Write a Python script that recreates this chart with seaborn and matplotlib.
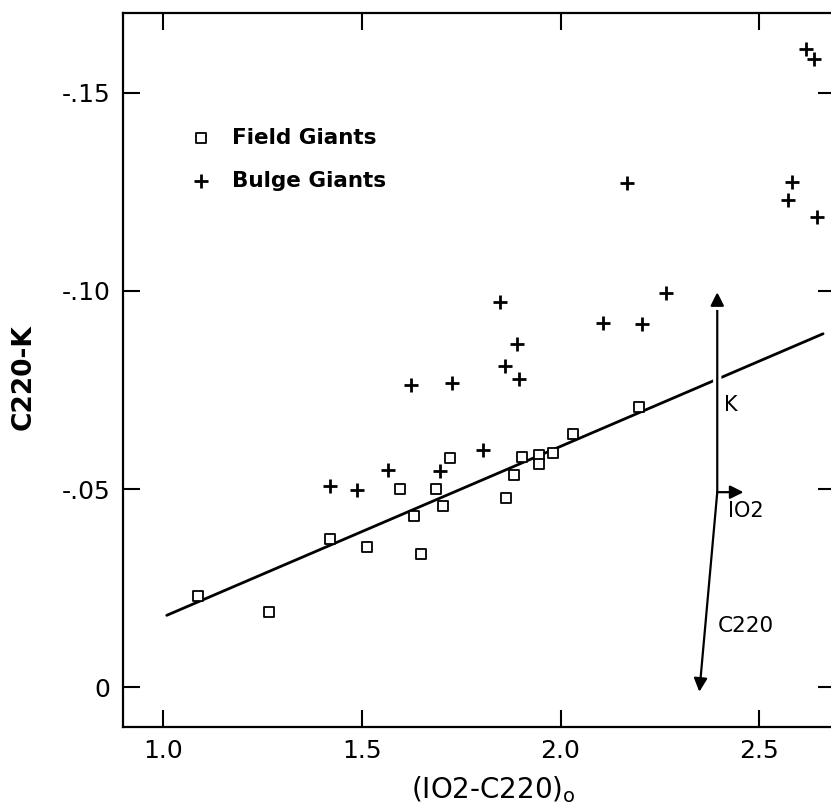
import numpy as np
import pandas as pd
import matplotlib
matplotlib.use('agg')
import matplotlib.pyplot as plt
import matplotlib.patheffects as pe
import seaborn as sns

# field giants (open squares)
field_x = [1.088, 1.267, 1.421, 1.514, 1.597, 1.632, 1.650, 1.688, 1.705, 1.723,
           1.864, 1.884, 1.904, 1.945, 1.945, 1.982, 2.032, 2.196]
field_y = [-0.0231, -0.0189, -0.0374, -0.0353, -0.0499, -0.0431, -0.0337, -0.0501, -0.0458, -0.0579,
           -0.0477, -0.0535, -0.0580, -0.0585, -0.0562, -0.0592, -0.0639, -0.0706]

# bulge giants (plus signs)
bulge_x = [1.420, 1.488, 1.566, 1.697, 1.805, 1.624, 1.727, 1.848, 1.891, 1.861,
           1.896, 2.107, 2.205, 2.266, 2.168, 2.618, 2.638, 2.583, 2.573, 2.646]
bulge_y = [-0.0508, -0.0497, -0.0547, -0.0546, -0.0598, -0.0762, -0.0768, -0.0972, -0.0865, -0.0810,
           -0.0777, -0.0919, -0.0916, -0.0996, -0.1272, -0.1612, -0.1586, -0.1276, -0.1231, -0.1188]

# fitted relation for the field giants
fit_x = [1.01, 2.66]
fit_y = [-0.0181, -0.0892]

# reddening vector
vec_origin = (2.394, -0.0492)
vec_k = (2.394, -0.0997)
vec_io2 = (2.460, -0.0492)
vec_c220 = (2.349, 0.0012)

x_ticks = [1.0, 1.5, 2.0, 2.5]
x_ticklabels = ["1.0", "1.5", "2.0", "2.5"]
y_ticks = [-0.15, -0.10, -0.05, 0.0]
y_ticklabels = ["-.15", "-.10", "-.05", "0"]

sns.set_style("ticks")
plt.rcParams["font.family"] = ["DejaVu Sans"]
plt.rcParams["text.color"] = "black"
plt.rcParams["axes.labelcolor"] = "black"

fig = plt.figure(figsize=(8.31, 8.07), dpi=100)
ax = fig.add_axes([123 / 831, 1 - 727 / 807, 712 / 831, 714 / 807])

df_field = pd.DataFrame({"x": field_x, "y": field_y})
df_bulge = pd.DataFrame({"x": bulge_x, "y": bulge_y})

sns.lineplot(x=fit_x, y=fit_y, color="black", linewidth=2.0, ax=ax, zorder=2)
sns.scatterplot(data=df_field, x="x", y="y", marker="s", s=55, facecolor="white",
                edgecolor="black", linewidth=1.3, label="Field Giants", ax=ax, zorder=3)
sns.scatterplot(data=df_bulge, x="x", y="y", marker="+", s=110, color="black",
                linewidth=2.0, label="Bulge Giants", ax=ax, zorder=3)

# reddening vector arrows
halo = [pe.Stroke(linewidth=6, foreground="white"), pe.Normal()]
ax.annotate("", xy=vec_k, xytext=vec_origin,
            arrowprops=dict(arrowstyle="-|>", color="black", lw=1.6, mutation_scale=20,
                            shrinkA=0, shrinkB=0, path_effects=halo), zorder=4)
ax.annotate("", xy=vec_io2, xytext=vec_origin,
            arrowprops=dict(arrowstyle="-|>", color="black", lw=1.6, mutation_scale=20,
                            shrinkA=0, shrinkB=0), zorder=4)
ax.annotate("", xy=vec_c220, xytext=vec_origin,
            arrowprops=dict(arrowstyle="-|>", color="black", lw=1.6, mutation_scale=20,
                            shrinkA=0, shrinkB=0), zorder=4)
ax.text(2.410, -0.0712, "K", ha="left", va="center", fontsize=15)
ax.text(2.422, -0.0444, "IO2", ha="left", va="center", fontsize=15)
ax.text(2.395, -0.0154, "C220", ha="left", va="center", fontsize=15.5)

ax.set_xlim(0.90, 2.69)
ax.set_ylim(0.0101, -0.1702)
ax.set_xticks(x_ticks)
ax.set_xticklabels(x_ticklabels)
ax.set_yticks(y_ticks)
ax.set_yticklabels(y_ticklabels)
ax.tick_params(direction="in", top=True, right=True, length=12, width=1.5,
               labelsize=18, pad=9, colors="black")
for sp in ax.spines.values():
    sp.set_linewidth(1.6)
    sp.set_color("black")

ax.set_xlabel("(IO2-C220)$_\\mathrm{o}$", fontsize=20)
ax.set_ylabel("C220-K", fontsize=19, fontweight="bold")
ax.xaxis.set_label_coords(0.52, -0.066)
ax.yaxis.set_label_coords(-0.122, 0.49)

handles, labels = ax.get_legend_handles_labels()
ax.legend(handles, labels, loc="upper left", bbox_to_anchor=(0.095, 0.839),
          frameon=False, prop={"size": 15.5, "weight": "bold"}, handlelength=1.0,
          handletextpad=0.9, labelspacing=1.05, borderaxespad=0, borderpad=0)

fig.savefig("out.png", dpi=100)
plt.close(fig)
